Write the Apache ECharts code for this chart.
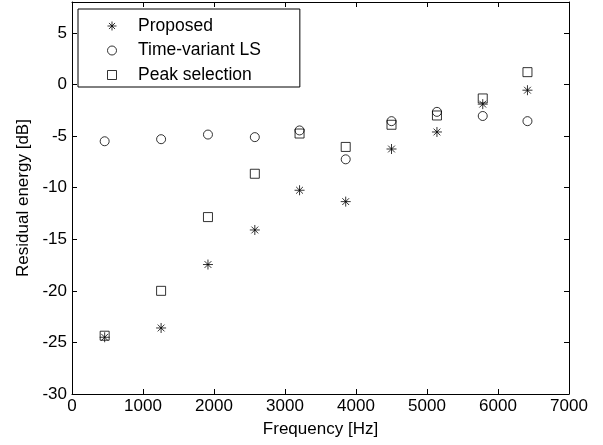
<!DOCTYPE html>
<html>
<head>
<meta charset="utf-8">
<script src="https://cdn.jsdelivr.net/npm/echarts@6/dist/echarts.min.js"></script>
<style>
  html, body { margin: 0; padding: 0; background: #fff; }
  #chart { width: 603px; height: 445px; }
</style>
</head>
<body>
<div id="chart"></div>
<script>
// frequency of each measurement point [Hz]
var freqs = [460, 1255, 1915, 2575, 3205, 3855, 4500, 5140, 5785, 6415];
// residual energy [dB]
var proposed = [-24.5, -23.6, -17.45, -14.1, -10.25, -11.35, -6.25, -4.6, -1.9, -0.55];
var timeVariantLS = [-5.5, -5.3, -4.85, -5.1, -4.45, -7.25, -3.55, -2.65, -3.05, -3.55];
var peakSelection = [-24.35, -20.0, -12.85, -8.65, -4.75, -6.05, -3.9, -3.0, -1.35, 1.2];

var names = ['Proposed', 'Time-variant LS', 'Peak selection'];

var FONT = "'Liberation Sans', Arial, sans-serif";
var starPath = 'path://M5,0L5,10M0,5L10,5M1.6,1.6L8.4,8.4M1.6,8.4L8.4,1.6';
var squarePath = 'path://M0,0L10,0L10,10L0,10Z';

function pairs(ys) {
  var out = [];
  for (var i = 0; i < freqs.length; i++) out.push([freqs[i], ys[i]]);
  return out;
}

var myChart = echarts.init(document.getElementById('chart'));

var axisLine = { show: true, onZero: false, lineStyle: { color: '#000', width: 1 } };
var axisTick = { show: true, inside: true, length: 5, lineStyle: { color: '#000', width: 1 } };
var labelStyle = { color: '#000', fontFamily: FONT, fontSize: 17 };

var markerStyle = { color: 'none', borderColor: '#000', borderWidth: 1 };

var option = {
  animation: false,
  backgroundColor: '#fff',
  grid: { left: 72, right: 34, top: 2, bottom: 51 },
  legend: {
    orient: 'vertical',
    left: 78,
    top: 9,
    data: names,
    itemWidth: 42,
    itemHeight: 9,
    itemGap: 6.5,
    padding: [8, 39, 3, 27],
    borderColor: '#000',
    borderWidth: 1,
    backgroundColor: '#fff',
    borderRadius: 0,
    selectedMode: false,
    itemStyle: { borderWidth: 1 },
    textStyle: { color: '#000', fontFamily: FONT, fontSize: 17.5, lineHeight: 17 }
  },
  xAxis: [
    {
      type: 'value', min: 0, max: 7000, interval: 1000,
      name: 'Frequency [Hz]', nameLocation: 'middle', nameGap: 27,
      nameTextStyle: labelStyle,
      axisLine: axisLine, axisTick: axisTick,
      axisLabel: Object.assign({ margin: 4, formatter: function (v) { return String(v); } }, labelStyle),
      splitLine: { show: false }
    },
    {
      type: 'value', position: 'top', min: 0, max: 7000, interval: 1000,
      axisLine: axisLine, axisTick: axisTick,
      axisLabel: { show: false }, splitLine: { show: false }
    }
  ],
  yAxis: [
    {
      type: 'value', min: -30, max: 8, interval: 5,
      name: 'Residual energy [dB]', nameLocation: 'middle', nameGap: 39,
      nameTextStyle: labelStyle,
      axisLine: axisLine, axisTick: axisTick,
      axisLabel: Object.assign({ margin: 5, showMaxLabel: false }, labelStyle),
      splitLine: { show: false }
    },
    {
      type: 'value', position: 'right', min: -30, max: 8, interval: 5,
      axisLine: axisLine, axisTick: axisTick,
      axisLabel: { show: false }, splitLine: { show: false }
    }
  ],
  series: [
    {
      name: names[0], type: 'scatter', symbol: starPath, symbolSize: 10,
      symbolKeepAspect: true,
      itemStyle: markerStyle, data: pairs(proposed)
    },
    {
      name: names[1], type: 'scatter', symbol: 'circle', symbolSize: 9,
      itemStyle: markerStyle, data: pairs(timeVariantLS)
    },
    {
      name: names[2], type: 'scatter', symbol: squarePath, symbolSize: 9,
      symbolKeepAspect: true,
      itemStyle: markerStyle, data: pairs(peakSelection)
    }
  ]
};

myChart.setOption(option);
</script>
</body>
</html>
